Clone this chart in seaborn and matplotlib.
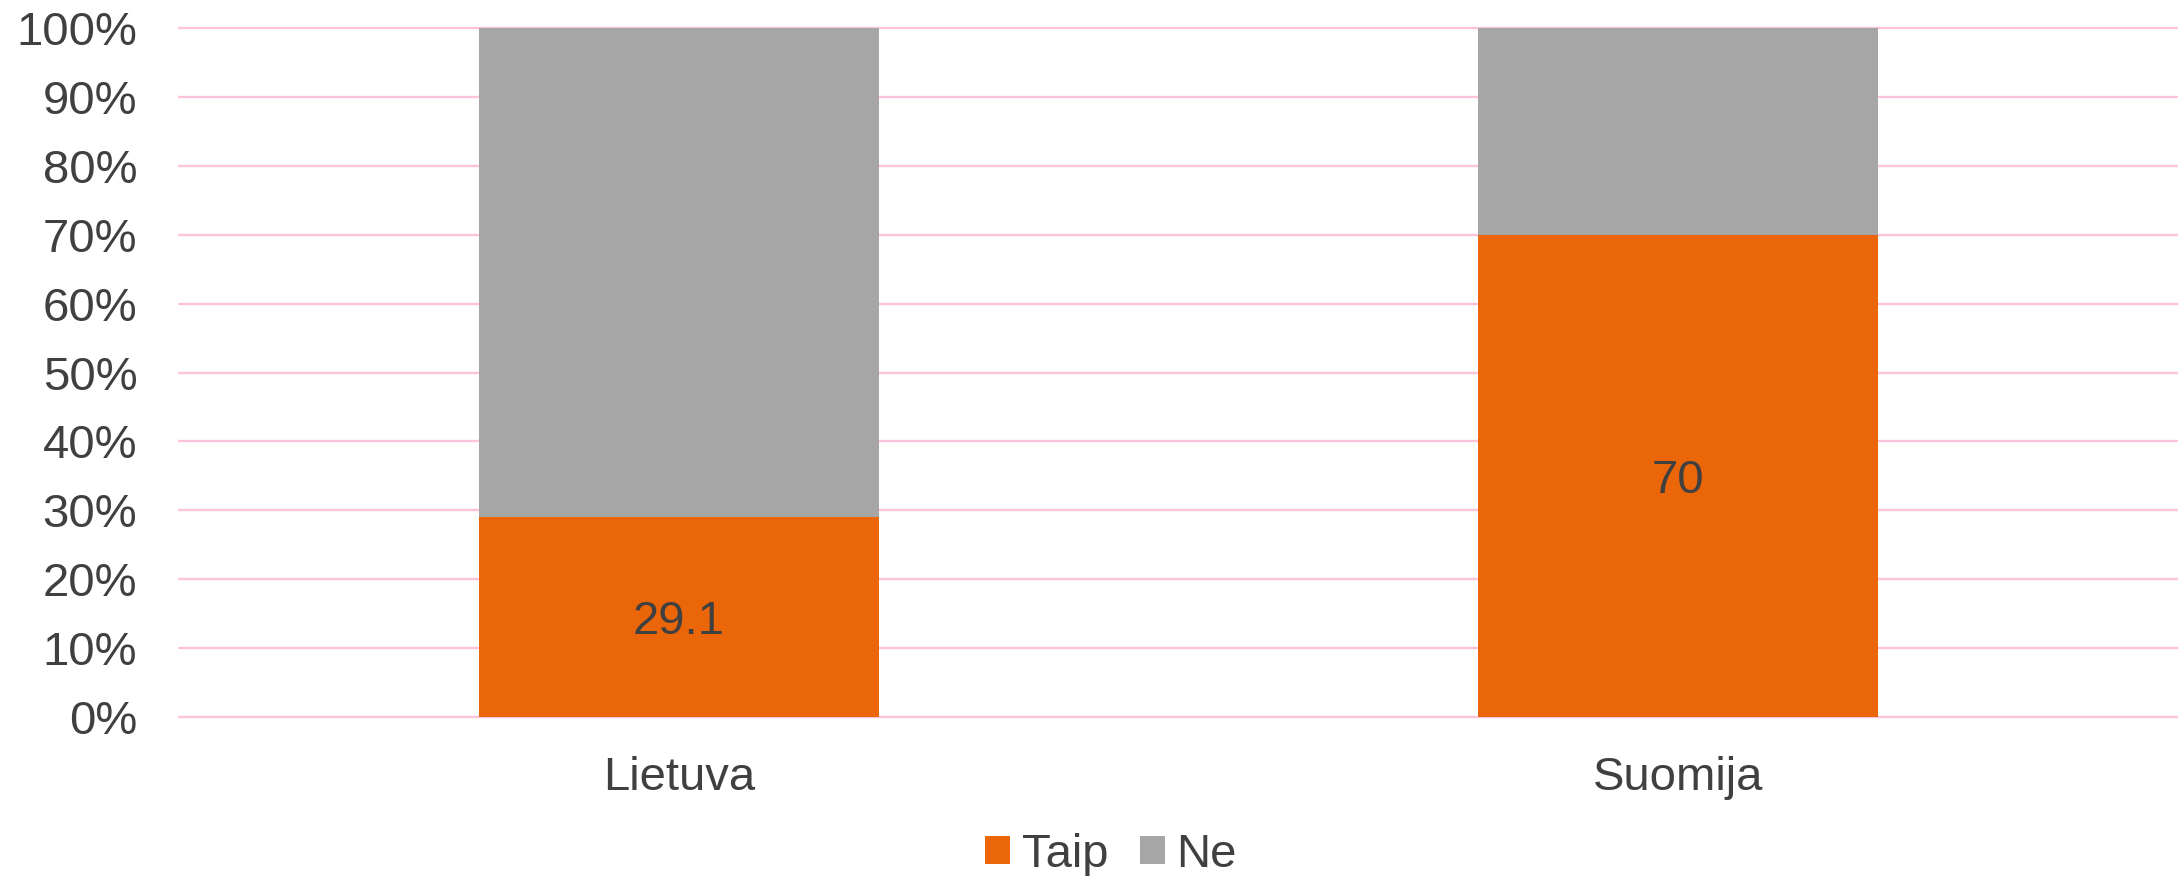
import matplotlib
matplotlib.use("Agg")
import matplotlib.pyplot as plt
import seaborn as sns
import pandas as pd
from matplotlib.patches import Patch
from matplotlib.ticker import FuncFormatter

categories = ["Lietuva", "Suomija"]
taip = [29.1, 70.0]
ne = [70.9, 30.0]
series_names = ["Taip", "Ne"]
yticks = [0, 10, 20, 30, 40, 50, 60, 70, 80, 90, 100]

ORANGE = "#EB6608"
GRAY = "#A6A6A6"
TEXT = "#404040"
GRID = "#FFC2DD"

sns.set_theme(style="white")
plt.rcParams["font.family"] = ["Liberation Sans", "DejaVu Sans"]

df = pd.DataFrame({"cat": categories, "taip": taip, "ne": ne})
df["total"] = df["taip"] + df["ne"]

fig = plt.figure(figsize=(21.78, 8.76), dpi=100)
ax = fig.add_axes([179 / 2178, 1 - 717 / 876, 1 - 179 / 2178, (717 - 28) / 876])

sns.barplot(data=df, x="cat", y="total", color=GRAY, width=0.4, saturation=1,
            ax=ax, zorder=2, linewidth=0)
sns.barplot(data=df, x="cat", y="taip", color=ORANGE, width=0.4, saturation=1,
            ax=ax, zorder=3, linewidth=0)

cont = ax.containers[1]
anns = ax.bar_label(cont, labels=[f"{v:g}" for v in taip], label_type="center",
                    fontsize=34, color=TEXT)
for a in anns:
    a.xyann = (0, -4)

ax.set_ylim(0, 100)
ax.set_xlim(-0.5, 1.5)
ax.set_yticks(yticks)
ax.yaxis.set_major_formatter(FuncFormatter(lambda v, p: f"{v:.0f}%"))
ax.grid(axis="y", color=GRID, linewidth=1.7, zorder=0)
ax.set_axisbelow(True)
for s in ax.spines.values():
    s.set_visible(False)
ax.set_xlabel("")
ax.set_ylabel("")
ax.tick_params(axis="y", length=0, pad=30, labelsize=34, labelcolor=TEXT)
ax.tick_params(axis="x", length=0, pad=28, labelsize=34, labelcolor=TEXT)
for gl in ax.get_ygridlines():
    gl.set_clip_on(False)

handles = [Patch(facecolor=ORANGE, edgecolor="none"), Patch(facecolor=GRAY, edgecolor="none")]
fig.legend(handles, series_names, loc="center", bbox_to_anchor=(1111 / 2178, 1 - 855 / 876),
           ncol=2, frameon=False, fontsize=34, labelcolor=TEXT,
           handlelength=0.53, handleheight=0.53, handletextpad=0.25, columnspacing=0.66)

fig.savefig("out.png", dpi=100, facecolor="white")
